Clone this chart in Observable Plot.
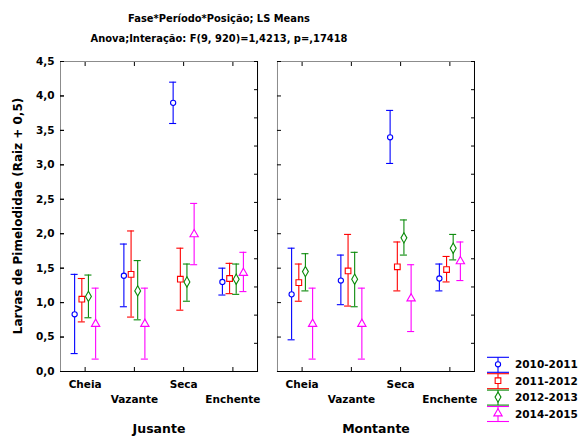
<!DOCTYPE html>
<html><head><meta charset="utf-8">
<script src="https://cdn.jsdelivr.net/npm/d3@7"></script>
<script src="https://cdn.jsdelivr.net/npm/@observablehq/plot@0.6"></script>
<style>
body{margin:0;background:#fff;}
#wrap{position:relative;width:582px;height:436px;overflow:hidden;background:#fff;}
#wrap > svg{position:absolute;left:0;top:0;}
.t{position:absolute;left:0;width:438px;text-align:center;font-family:"Liberation Sans Narrow","DejaVu Sans Condensed",sans-serif;font-weight:bold;font-size:11px;white-space:nowrap;color:#000;}
#ytitle{position:absolute;left:18px;top:216px;transform:translate(-50%,-50%) rotate(-90deg);font-family:"DejaVu Sans",sans-serif;font-weight:bold;font-size:12px;white-space:nowrap;color:#000;}
#legend{position:absolute;left:0;top:0;}
</style></head><body>
<div id="wrap">
<div class="t" style="top:12px">Fase*Período*Posição; LS Means</div>
<div class="t" style="top:32px">Anova;Interação: F(9, 920)=1,4213, p=,17418</div>
<div id="ytitle">Larvas de Pimelodidae (Raiz + 0,5)</div>
</div>
<script>
const fases = ["Cheia","Vazante","Seca","Enchente"];
const posicoes = ["Jusante","Montante"];
const series = ["2010-2011","2011-2012","2012-2013","2014-2015"];
const yTicks = [0,0.5,1,1.5,2,2.5,3,3.5,4,4.5];

// rows: series; columns: fases (Cheia, Vazante, Seca, Enchente)
const meanJusante = [
  [0.83,1.39,3.90,1.30],
  [1.05,1.41,1.34,1.35],
  [1.09,1.17,1.30,1.34],
  [0.69,0.69,1.99,1.43]
];
const lowJusante = [
  [0.26,0.94,3.60,1.11],
  [0.72,0.79,0.89,1.13],
  [0.78,0.75,1.02,1.12],
  [0.18,0.18,1.55,1.16]
];
const highJusante = [
  [1.41,1.85,4.20,1.50],
  [1.35,2.04,1.79,1.57],
  [1.40,1.61,1.56,1.56],
  [1.21,1.21,2.44,1.73]
];
const meanMontante = [
  [1.12,1.32,3.40,1.35],
  [1.29,1.46,1.52,1.48],
  [1.45,1.34,1.94,1.79],
  [0.69,0.69,1.06,1.60]
];
const lowMontante = [
  [0.46,0.97,3.02,1.17],
  [1.02,0.95,1.17,1.30],
  [1.17,0.94,1.69,1.62],
  [0.18,0.18,0.58,1.32]
];
const highMontante = [
  [1.79,1.69,3.79,1.56],
  [1.56,1.99,1.88,1.67],
  [1.71,1.73,2.20,1.99],
  [1.21,1.21,1.55,1.88]
];

// styles
const colors = ["#0000ff","#ff0000","#0a8a0a","#ff00ff"];
const symbols = ["circle","square","diamond","triangle"];
const offsets = [-10.5,-3.3,3.3,10.5];
const radii = [2.6,3.2,3.1,3.1];

const tables = {
  Jusante: {mean: meanJusante, low: lowJusante, high: highJusante},
  Montante: {mean: meanMontante, low: lowMontante, high: highMontante}
};
const rows = series.map((s, i) => {
  const out = [];
  for (const p of posicoes) {
    fases.forEach((f, j) => {
      out.push({serie: s, posicao: p, fase: f,
        mean: tables[p].mean[i][j], low: tables[p].low[i][j], high: tables[p].high[i][j]});
    });
  }
  return out;
});
const rightTicks = d3.range(12).map(k => k * 4.5 / 11);
const fmt = d => d.toFixed(1).replace(".", ",");
const capInset = 21.1;

const marks = [
  Plot.frame({stroke: "#8c8c8c"}),
  Plot.frame({anchor: "bottom", stroke: "#000"}),
  Plot.frame({anchor: "right", stroke: "#000"}),
  Plot.axisY(yTicks, {anchor: "left", tickSize: -4, tickPadding: 10, tickFormat: fmt, label: null, fontSize: 10.5}),
  Plot.axisY(yTicks, {anchor: "left", tickSize: -4, tickFormat: () => "", label: null, facetAnchor: null}),
  Plot.axisY(rightTicks, {anchor: "right", tickSize: -4, tickFormat: () => "", label: null, facetAnchor: null}),
  Plot.axisX({anchor: "top", tickSize: -4, tickFormat: () => "", label: null, facetAnchor: null}),
  Plot.axisX({anchor: "bottom", tickSize: -4, tickFormat: () => "", label: null, facetAnchor: null}),
  Plot.axisX(["Cheia","Seca"], {anchor: "bottom", tickSize: 0, tickPadding: 9, label: null, fontSize: 10.5, facetAnchor: null}),
  Plot.axisX(["Vazante","Enchente"], {anchor: "bottom", tickSize: 0, tickPadding: 24, label: null, fontSize: 10.5, facetAnchor: null}),
  Plot.axisFx({anchor: "bottom", tickSize: 0, tickPadding: 53, label: null, fontSize: 12.5})
];
series.forEach((s, i) => {
  const common = {fx: "posicao", x: "fase", stroke: colors[i], dx: offsets[i]};
  marks.push(
    Plot.ruleX(rows[i], {...common, y1: "low", y2: "high", strokeWidth: 1.1}),
    Plot.tickY(rows[i], {...common, y: "low", insetLeft: capInset, insetRight: capInset, strokeWidth: 1.1}),
    Plot.tickY(rows[i], {...common, y: "high", insetLeft: capInset, insetRight: capInset, strokeWidth: 1.1}),
    Plot.dot(rows[i], {...common, y: "mean", symbol: symbols[i], r: radii[i], fill: "white", strokeWidth: 1.1})
  );
});

const chart = Plot.plot({
  width: 582,
  height: 436,
  marginTop: 61,
  marginBottom: 65,
  marginLeft: 60,
  marginRight: 108,
  style: {fontFamily: "DejaVu Sans", fontWeight: "bold", fontSize: "10.5px", color: "#000", background: "transparent"},
  fx: {domain: posicoes, padding: 0.092, round: false},
  x: {type: "band", domain: fases, padding: 0, round: false},
  y: {domain: [0, 4.5]},
  marks
});
const wrap = document.getElementById("wrap");
wrap.insertBefore(chart, wrap.firstChild);

// legend
const leg = d3.select(wrap).append("svg").attr("id", "legend").attr("width", 582).attr("height", 436);
series.forEach((s, i) => {
  const y = 364.3 + 16.4 * i;
  const g = leg.append("g").attr("stroke", colors[i]).attr("stroke-width", 1.1).attr("fill", "none");
  g.append("line").attr("x1", 487).attr("x2", 509).attr("y1", y - 7).attr("y2", y - 7);
  g.append("line").attr("x1", 487).attr("x2", 509).attr("y1", y + 8).attr("y2", y + 8);
  g.append("line").attr("x1", 498).attr("x2", 498).attr("y1", y - 7).attr("y2", y + 8);
  const sym = {circle: d3.symbolCircle, square: d3.symbolSquare, diamond: d3.symbolDiamond, triangle: d3.symbolTriangle}[symbols[i]];
  g.append("path").attr("transform", `translate(498,${y})`).attr("fill", "white")
    .attr("d", d3.symbol(sym, Math.PI * radii[i] * radii[i])());
  leg.append("text").attr("x", 515).attr("y", y + 4).attr("font-family", "DejaVu Sans").attr("font-weight", "bold")
    .attr("font-size", 10.5).attr("fill", "#000").text(s);
});
</script>
</body></html>
